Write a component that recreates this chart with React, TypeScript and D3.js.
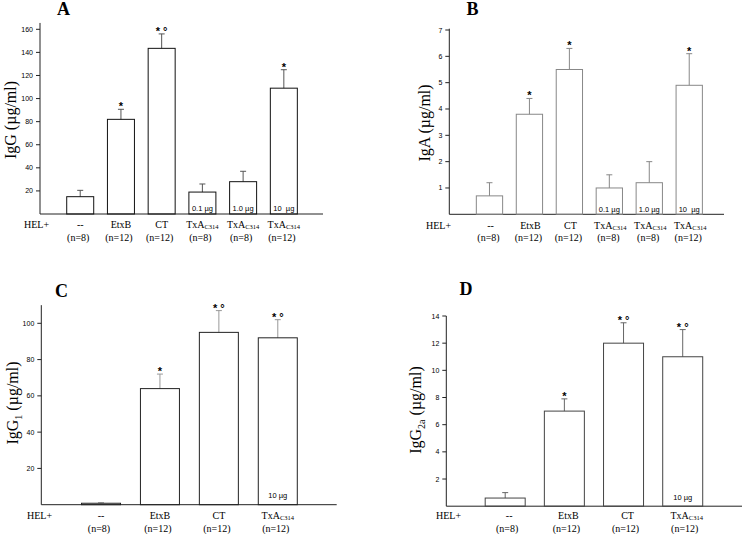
import React from "react";
import * as d3 from "d3";

// ---- data ----
const groupsAB = ["--", "EtxB", "CT", "TxA", "TxA", "TxA"];
const nAB = ["(n=8)", "(n=12)", "(n=12)", "(n=8)", "(n=8)", "(n=12)"];
const groupsCD = ["--", "EtxB", "CT", "TxA"];
const nCD = ["(n=8)", "(n=12)", "(n=12)", "(n=12)"];
const doseAB = ["", "", "", "0.1 \u00b5g", "1.0 \u00b5g", "10  \u00b5g"];
const doseCD = ["", "", "", "10 \u00b5g"];

const igG = [15, 82, 143.5, 19, 28, 109];
const igGErr = [20.5, 90.7, 156, 26, 37, 125];
const igGMarks = ["", "*", "* \u00b0", "", "", "*"];

const igA = [0.7, 3.8, 5.5, 1.0, 1.2, 4.9];
const igAErr = [1.2, 4.4, 6.3, 1.5, 2.0, 6.1];
const igAMarks = ["", "*", "*", "", "", "*"];

const igG1 = [0.8, 64, 95, 92];
const igG1Err = [1.1, 72, 107, 102];
const igG1Marks = ["", "*", "* \u00b0", "* \u00b0"];

const igG2a = [0.6, 7.0, 12, 11];
const igG2aErr = [1.0, 7.9, 13.5, 13.0];
const igG2aMarks = ["", "*", "* \u00b0", "* \u00b0"];

const ticksA = [20, 40, 60, 80, 100, 120, 140, 160];
const ticksB = [1, 2, 3, 4, 5, 6, 7];
const ticksC = [20, 40, 60, 80, 100];
const ticksD = [2, 4, 6, 8, 10, 12, 14];

const SERIF = "'Liberation Serif', 'Times New Roman', Times, serif";
const SANS = "'Liberation Sans', Arial, Helvetica, sans-serif";

type PanelProps = {
  letter: string;
  letterX: number;
  letterY: number;
  ylab: string;
  ylabSub?: string;
  ylabX: number;
  ylabY: number;
  axisX: number;
  axisEnd: number;
  base: number;
  maxVal: number;
  maxPix: number;
  axisTopVal: number;
  bandStart: number;
  bandEnd: number;
  barWidth: number;
  values: number[];
  errs: number[];
  marks: string[];
  groups: string[];
  ns: string[];
  doses: string[];
  ticks: number[];
  barColor: string;
  errColor: string;
  helX: number;
  lab1Y: number;
  lab2Y: number;
  labOffset: number;
  doseY: number;
};

function Panel(p: PanelProps) {
  const y = d3.scaleLinear().domain([0, p.maxVal]).range([p.base, p.maxPix]);
  const idx = p.values.map((_, i) => String(i));
  const step = (p.bandEnd - p.bandStart) / p.values.length;
  const pad = 1 - p.barWidth / step;
  const x = d3
    .scaleBand<string>()
    .domain(idx)
    .range([p.bandStart, p.bandEnd])
    .paddingInner(pad)
    .paddingOuter(pad / 2);
  const bw = x.bandwidth();
  return (
    <g>
      <text
        x={p.letterX}
        y={p.letterY}
        textAnchor="middle"
        fontFamily={SERIF}
        fontWeight="bold"
        fontSize={18}
      >
        {p.letter}
      </text>
      <text
        transform={`translate(${p.ylabX},${p.ylabY}) rotate(-90)`}
        textAnchor="middle"
        fontFamily={SERIF}
        fontSize={16}
      >
        {p.ylabSub ? (
          <>
            <tspan>IgG</tspan>
            <tspan fontSize={10} dy={4}>
              {p.ylabSub}
            </tspan>
            <tspan dy={-4}> (µg/ml)</tspan>
          </>
        ) : (
          p.ylab
        )}
      </text>
      {/* axes */}
      <line x1={p.axisX} x2={p.axisX} y1={p.base} y2={y(p.axisTopVal)} stroke="#222" strokeWidth={1} />
      <line x1={p.axisX} x2={p.axisEnd} y1={p.base} y2={p.base} stroke="#222" strokeWidth={1} />
      {p.ticks.map((t) => (
        <g key={t}>
          <line x1={p.axisX - 4} x2={p.axisX} y1={y(t)} y2={y(t)} stroke="#222" strokeWidth={1} />
          <text x={p.axisX - 7} y={y(t) + 2.5} textAnchor="end" fontFamily={SANS} fontSize={7}>
            {t}
          </text>
        </g>
      ))}
      {/* bars */}
      {p.values.map((v, i) => {
        const x0 = x(String(i))!;
        const cx = x0 + bw / 2;
        return (
          <g key={i}>
            <line x1={cx} x2={cx} y1={y(v)} y2={y(p.errs[i])} stroke={p.errColor} strokeWidth={1} />
            <line
              x1={cx - 3}
              x2={cx + 3}
              y1={y(p.errs[i])}
              y2={y(p.errs[i])}
              stroke={p.errColor}
              strokeWidth={1}
            />
            <rect
              x={x0}
              y={y(v)}
              width={bw}
              height={p.base - y(v)}
              fill="white"
              fillOpacity={0}
              stroke={p.barColor}
              strokeWidth={1}
            />
            {p.marks[i] && (
              <text
                x={cx}
                y={y(p.errs[i]) + 1}
                textAnchor="middle"
                fontFamily={SANS}
                fontSize={11}
                fontWeight="bold"
              >
                {p.marks[i]}
              </text>
            )}
            {p.doses[i] && (
              <text
                x={cx}
                y={p.doseY}
                textAnchor="middle"
                fontFamily={SANS}
                fontSize={7.5}
                style={{ whiteSpace: "pre" }}
              >
                {p.doses[i]}
              </text>
            )}
            <text x={cx + p.labOffset} y={p.lab1Y} textAnchor="middle" fontFamily={SERIF} fontSize={10}>
              {p.groups[i] === "TxA" ? (
                <>
                  <tspan>TxA</tspan>
                  <tspan fontSize={6.5} dy={1}>
                    C314
                  </tspan>
                </>
              ) : (
                p.groups[i]
              )}
            </text>
            <text
              x={cx + p.labOffset - 2}
              y={p.lab2Y}
              textAnchor="middle"
              fontFamily={SERIF}
              fontSize={10}
            >
              {p.ns[i]}
            </text>
          </g>
        );
      })}
      <text x={p.helX} y={p.lab1Y} fontFamily={SERIF} fontSize={10}>
        HEL+
      </text>
    </g>
  );
}

export default function App() {
  return (
    <div style={{ position: "absolute", left: 0, top: 0 }}>
      <svg width={742} height={534} style={{ display: "block", background: "white" }}>
        <Panel
          letter="A"
          letterX={63.5}
          letterY={15}
          ylab="IgG (µg/ml)"
          ylabX={16}
          ylabY={120}
          axisX={40}
          axisEnd={323}
          base={214}
          maxVal={160}
          maxPix={29.3}
          axisTopVal={165.5}
          bandStart={59.85}
          bandEnd={304.2}
          barWidth={27}
          values={igG}
          errs={igGErr}
          marks={igGMarks}
          groups={groupsAB}
          ns={nAB}
          doses={doseAB}
          ticks={ticksA}
          barColor="#111"
          errColor="#555"
          helX={24}
          lab1Y={228}
          lab2Y={241}
          labOffset={0}
          doseY={211}
        />
        <Panel
          letter="B"
          letterX={472.5}
          letterY={15}
          ylab="IgA (µg/ml)"
          ylabX={430}
          ylabY={123}
          axisX={449.3}
          axisEnd={724}
          base={214.3}
          maxVal={7}
          maxPix={30}
          axisTopVal={7.05}
          bandStart={469.5}
          bandEnd={709.2}
          barWidth={26.3}
          values={igA}
          errs={igAErr}
          marks={igAMarks}
          groups={groupsAB}
          ns={nAB}
          doses={doseAB}
          ticks={ticksB}
          barColor="#888"
          errColor="#888"
          helX={426}
          lab1Y={229}
          lab2Y={241}
          labOffset={1}
          doseY={212}
        />
        <Panel
          letter="C"
          letterX={61.5}
          letterY={297}
          ylab="IgG1 (µg/ml)"
          ylabSub="1"
          ylabX={18}
          ylabY={403}
          axisX={41.3}
          axisEnd={336.7}
          base={504.7}
          maxVal={100}
          maxPix={323.3}
          axisTopVal={110}
          bandStart={71.55}
          bandEnd={307.25}
          barWidth={39}
          values={igG1}
          errs={igG1Err}
          marks={igG1Marks}
          groups={groupsCD}
          ns={nCD}
          doses={doseCD}
          ticks={ticksC}
          barColor="#222"
          errColor="#999"
          helX={27}
          lab1Y={519}
          lab2Y={532}
          labOffset={0}
          doseY={498}
        />
        <Panel
          letter="D"
          letterX={466}
          letterY={295}
          ylab="IgG2a (µg/ml)"
          ylabSub="2a"
          ylabX={421}
          ylabY={410}
          axisX={446.3}
          axisEnd={742}
          base={506.2}
          maxVal={14}
          maxPix={316}
          axisTopVal={14}
          bandStart={475.6}
          bandEnd={712.3}
          barWidth={40}
          values={igG2a}
          errs={igG2aErr}
          marks={igG2aMarks}
          groups={groupsCD}
          ns={nCD}
          doses={doseCD}
          ticks={ticksD}
          barColor="#444"
          errColor="#666"
          helX={436}
          lab1Y={519}
          lab2Y={532}
          labOffset={4}
          doseY={500}
        />
      </svg>
    </div>
  );
}
